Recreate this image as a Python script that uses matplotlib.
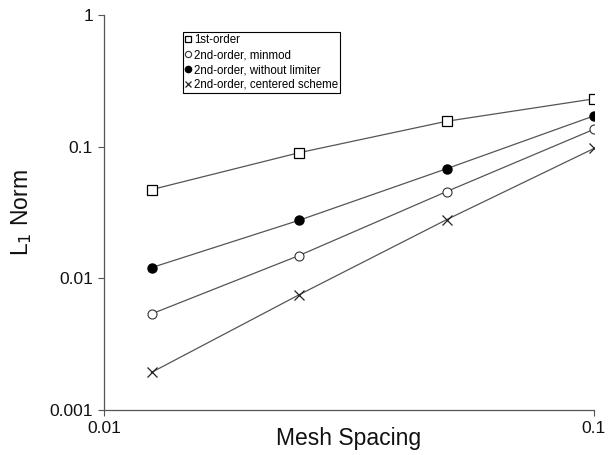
import matplotlib
matplotlib.use("Agg")
import matplotlib.pyplot as plt

plt.rcParams['font.family'] = ['Liberation Sans', 'DejaVu Sans']

# mesh spacing and L1 error norms
spacing = [0.0125, 0.025, 0.05, 0.1]
first_order = [0.0472, 0.090, 0.156, 0.231]
minmod = [0.00537, 0.0149, 0.0456, 0.1356]
no_limiter = [0.01206, 0.0276, 0.068, 0.1715]
centered = [0.00193, 0.0075, 0.0279, 0.097]

fig = plt.figure(figsize=(6.13, 4.55), dpi=100)
ax = fig.add_axes([0.1697, 0.0989, 0.7993, 0.868])

line_col = '#555555'
ax.plot(spacing, first_order, color=line_col, lw=0.9, marker='s', ms=6.5,
        mfc='white', mec='black', mew=0.9, label='1st-order')
ax.plot(spacing, minmod, color=line_col, lw=0.9, marker='o', ms=6.5,
        mfc='white', mec='#333333', mew=0.8, label='2nd-order, minmod')
ax.plot(spacing, no_limiter, color=line_col, lw=0.9, marker='o', ms=6.5,
        mfc='black', mec='black', label='2nd-order, without limiter')
ax.plot(spacing, centered, color=line_col, lw=0.9, marker='x', ms=6.5,
        mec='#222222', mew=0.9, label='2nd-order, centered scheme')

ax.set_xscale('log')
ax.set_yscale('log')
ax.set_xlim(0.01, 0.1)
ax.set_ylim(0.001, 1)
ax.set_xticks([0.01, 0.1])
ax.set_xticklabels(['0.01', '0.1'])
ax.set_yticks([0.001, 0.01, 0.1, 1])
ax.set_yticklabels(['0.001', '0.01', '0.1', '1'])
ax.minorticks_off()
ax.tick_params(direction='out', length=4, width=0.8, color='#555555',
               labelsize=12.5, pad=4, labelcolor='#111111')

for side in ['top', 'right']:
    ax.spines[side].set_visible(False)
for side in ['left', 'bottom']:
    ax.spines[side].set_color('#555555')
    ax.spines[side].set_linewidth(0.9)

ax.set_xlabel('Mesh Spacing', fontsize=16.5, color='#111111')
ax.xaxis.set_label_coords(0.5, -0.043)
ax.set_ylabel('L$_1$ Norm', fontsize=16.5, color='#111111')
ax.yaxis.set_label_coords(-0.142, 0.5)

leg = ax.legend(loc='upper left', bbox_to_anchor=(0.161, 0.957), borderaxespad=0,
                fontsize=8.3, handlelength=0.5, handletextpad=0.25,
                labelspacing=0.25, borderpad=0.2, fancybox=False,
                framealpha=1, edgecolor='black')
leg.get_frame().set_linewidth(0.8)
for h in leg.legend_handles:
    h.set_linestyle('none')
    h.set_markersize(4.5)

fig.savefig('out.png', dpi=100)
